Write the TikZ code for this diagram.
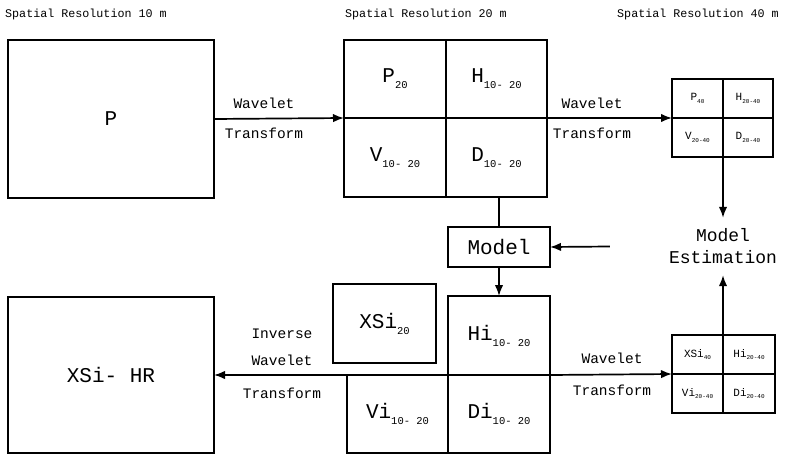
\documentclass[tikz,border=0pt]{standalone}
\usepackage{fontspec}
\setmainfont{Liberation Mono}
\usetikzlibrary{arrows.meta}
\newcommand{\lsub}[2]{#1\raisebox{-0.55ex}{\fontsize{10.5}{11}\selectfont #2}}
\newcommand{\ssub}[2]{#1\raisebox{-0.5ex}{\fontsize{6}{7}\selectfont #2}}
\begin{document}
\begin{tikzpicture}[x=1pt,y=-1pt,
  box/.style={draw, line width=1.7pt, inner sep=0pt, outer sep=0pt, font=\fontsize{21}{24}\selectfont},
  sm/.style={box, font=\fontsize{11}{12}\selectfont},
  arr/.style={line width=1.7pt, -{Latex[length=11pt,width=8.5pt]}},
  ln/.style={line width=1.7pt},
  lbl/.style={font=\fontsize{14.5}{16}\selectfont, inner sep=0pt},
  hdr/.style={font=\fontsize{11.7}{13}\selectfont, anchor=west, inner sep=0pt}]
\useasboundingbox (0,0) rectangle (802,454);
% headers
\node[hdr] (h1) at (5,14) {Spatial Resolution 10 m};
\node[hdr] (h2) at (345,14) {Spatial Resolution 20 m};
\node[hdr] (h3) at (617,14) {Spatial Resolution 40 m};
% large boxes
\node[box, minimum width=206pt, minimum height=158pt] (P) at (111,119) {P};
\node[box, minimum width=206pt, minimum height=156pt] (HR) at (111,375) {XSi- HR};
% middle upper quadrants
\node[box, minimum width=102pt, minimum height=78pt] (P20) at (395,79) {\lsub{P}{20}};
\node[box, minimum width=101pt, minimum height=78pt] (H) at (496.5,79) {\lsub{H}{10- 20}};
\node[box, minimum width=102pt, minimum height=79pt] (V) at (395,157.5) {\lsub{V}{10- 20}};
\node[box, minimum width=101pt, minimum height=79pt] (D) at (496.5,157.5) {\lsub{D}{10- 20}};
% top-right small quadrants
\node[sm, minimum width=51pt, minimum height=39pt] (Ps) at (697.5,98.5) {\ssub{P}{40}};
\node[sm, minimum width=50pt, minimum height=39pt] (Hs) at (748,98.5) {\ssub{H}{20-40}};
\node[sm, minimum width=51pt, minimum height=39pt] (Vs) at (697.5,137.5) {\ssub{V}{20-40}};
\node[sm, minimum width=50pt, minimum height=39pt] (Ds) at (748,137.5) {\ssub{D}{20-40}};
% model estimation
\node[inner sep=0pt, minimum height=57pt, align=center, font=\fontsize{18}{22}\selectfont] (ME) at (723,246.5) {Model\\Estimation};
% model
\node[box, minimum width=102pt, minimum height=40pt] (M) at (499,247) {Model};
% lower middle
\node[box, minimum width=103pt, minimum height=79pt] (XSi) at (384.5,323.5) {\lsub{XSi}{20}};
\node[box, minimum width=102pt, minimum height=79pt] (Hi) at (499,335.5) {\lsub{Hi}{10- 20}};
\node[box, minimum width=101pt, minimum height=78pt] (Vi) at (397.5,414) {\lsub{Vi}{10- 20}};
\node[box, minimum width=102pt, minimum height=78pt] (Di) at (499,414) {\lsub{Di}{10- 20}};
% bottom-right small quadrants
\node[sm, minimum width=51pt, minimum height=39pt] (XSs) at (697.5,354.5) {\ssub{XSi}{40}};
\node[sm, minimum width=52pt, minimum height=39pt] (His) at (749,354.5) {\ssub{Hi}{20-40}};
\node[sm, minimum width=51pt, minimum height=39pt] (Vis) at (697.5,393.5) {\ssub{Vi}{20-40}};
\node[sm, minimum width=52pt, minimum height=39pt] (Dis) at (749,393.5) {\ssub{Di}{20-40}};
% labels
\node[lbl] (w1) at (264,103) {Wavelet};
\node[lbl] (t1) at (264,133) {Transform};
\node[lbl] (w2) at (592,103) {Wavelet};
\node[lbl] (t2) at (592,133) {Transform};
\node[lbl] (w3) at (612,358) {Wavelet};
\node[lbl] (t3) at (612,390) {Transform};
\node[lbl] (i4) at (282,334) {Inverse};
\node[lbl] (w4) at (282,360) {Wavelet};
\node[lbl] (t4) at (282,393) {Transform};
% connectors
\draw[arr] (P.east) -- (P20.south west);
\draw[arr] (H.south east) -- (Ps.south west);
\draw[arr] (Ps.south east) -- (ME.north);
\draw[arr] (XSs.north east) -- (ME.south);
\draw[arr] ([xshift=-59pt]ME.west) -- (M.east);
\draw[ln] (M.north) -- (M.north |- D.south);
\draw[arr] (M.south) -- (Hi.north);
\draw[arr] (Di.north east) -- (XSs.south west);
\draw[arr] (Vi.north west) -- (HR.east);
\end{tikzpicture}
\end{document}
